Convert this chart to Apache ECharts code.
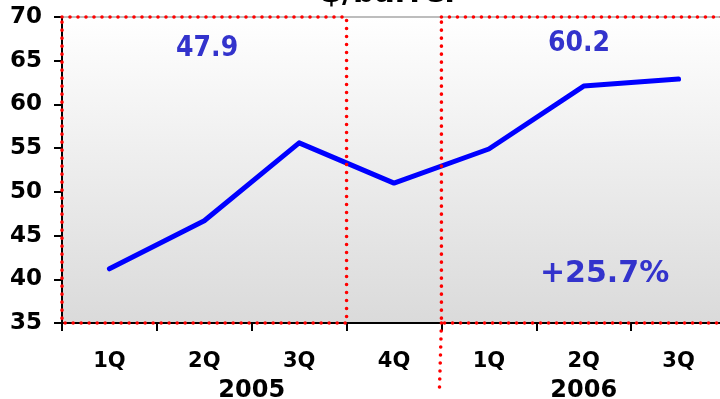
<!DOCTYPE html>
<html>
<head>
<meta charset="utf-8">
<script src="https://cdn.jsdelivr.net/npm/echarts@6/dist/echarts.min.js"></script>
<style>
  html, body { margin: 0; padding: 0; background: #ffffff; }
  #chart { width: 720px; height: 399px; }
</style>
</head>
<body>
<div id="chart"></div>
<script>
// Quarterly oil price, $/barrel
const quarters = ['1Q', '2Q', '3Q', '4Q', '1Q', '2Q', '3Q'];
const prices = [41.2, 46.7, 55.6, 51.0, 54.9, 62.1, 62.9];
const years = ['2005', '2006'];
const yearQuarterCounts = [4, 3];
// Average price for the compared periods: 1Q-3Q 2005 vs 1Q-3Q 2006
const periodAverages = ['47.9', '60.2'];
const periodStarts = [0, 4];
const periodLengths = [3, 3];
const changeLabel = '+25.7%';
const unitTitle = '$/barrel';
const yMin = 35, yMax = 70, yStep = 5;

const FONT = '"DejaVu Sans", Verdana, sans-serif';
const FONT_NARROW = '"DejaVu Sans Condensed", "DejaVu Sans", Tahoma, sans-serif';
const BLUE_TEXT = '#3333cc';
const DOT_STYLE = { stroke: '#ff0000', lineWidth: 3.6, lineDash: [0, 8], lineCap: 'round', fill: null };

const chart = echarts.init(document.getElementById('chart'), null, { renderer: 'canvas' });

chart.setOption({
  animation: false,
  backgroundColor: '#ffffff',
  grid: {
    // the plot runs slightly past the right edge of the canvas
    left: 62, top: 17, width: 664, bottom: 76,
    outerBoundsMode: 'none',
    containLabel: false,
    show: true,
    borderColor: '#a8a8a8',
    borderWidth: 1.5,
    backgroundColor: new echarts.graphic.LinearGradient(0, 0, 0, 1, [
      { offset: 0, color: '#ffffff' },
      { offset: 1, color: '#dadada' }
    ])
  },
  xAxis: [
    {
      type: 'category',
      data: quarters,
      boundaryGap: true,
      axisLine: { lineStyle: { color: '#000000', width: 2 } },
      axisTick: { show: true, length: 8, alignWithLabel: false, lineStyle: { color: '#000000', width: 2 } },
      axisLabel: {
        interval: 0, margin: 28,
        color: '#000000', fontFamily: FONT, fontWeight: 'bold', fontSize: 21
      },
      splitLine: { show: false }
    },
    {
      // Helper scale spanning the quarter bands (0 .. number of quarters)
      type: 'value',
      min: 0, max: quarters.length,
      show: false
    }
  ],
  yAxis: {
    type: 'value',
    min: yMin, max: yMax, interval: yStep,
    axisLine: { show: true, lineStyle: { color: '#000000', width: 2 } },
    axisTick: { show: true, length: 8, inside: false, lineStyle: { color: '#000000', width: 2 } },
    axisLabel: {
      margin: 20,
      color: '#000000', fontFamily: FONT, fontWeight: 'bold', fontSize: 23
    },
    splitLine: { show: false }
  },
  series: [
    {
      type: 'line',
      xAxisIndex: 0,
      yAxisIndex: 0,
      data: prices,
      showSymbol: false,
      symbol: 'none',
      lineStyle: { color: '#0000ff', width: 5, cap: 'round', join: 'round' },
      z: 3
    }
  ]
});

// Annotations placed through the chart's own scales
const px = v => chart.convertToPixel({ xAxisIndex: 1 }, v);
const py = v => chart.convertToPixel({ yAxisIndex: 0 }, v);
const yTop = py(yMax), yBot = py(yMin);

const graphics = [];

// Compared periods: dotted red boxes with their average price
const averageLevels = [66.4, 66.9];
const averageOffsets = [0.03, -0.05];
periodStarts.forEach((s, i) => {
  const x0 = px(s), x1 = px(s + periodLengths[i]);
  graphics.push({
    type: 'rect', z: 100, silent: true,
    shape: { x: x0, y: yTop, width: x1 - x0, height: yBot - yTop },
    style: Object.assign({}, DOT_STYLE)
  });
  graphics.push({
    type: 'text', z: 100, silent: true,
    x: px(s + periodLengths[i] / 2 + averageOffsets[i]), y: py(averageLevels[i]),
    style: {
      text: periodAverages[i], fill: BLUE_TEXT, font: 'bold 28px ' + FONT_NARROW,
      align: 'center', verticalAlign: 'middle'
    }
  });
});

// Year labels under the quarter labels
let start = 0;
yearQuarterCounts.forEach((count, i) => {
  graphics.push({
    type: 'text', z: 100, silent: true,
    x: px(start + count / 2), y: yBot + 56,
    style: {
      text: years[i], fill: '#000000', font: 'bold 24px ' + FONT,
      align: 'center', verticalAlign: 'top'
    }
  });
  start += count;
});

// Divider between the two years, running down past the axis
const xDiv = px(yearQuarterCounts[0]);
graphics.push({
  type: 'polyline', z: 101, silent: true,
  shape: { points: [[xDiv, yBot], [xDiv - 2, yBot + 67]] },
  style: Object.assign({}, DOT_STYLE)
});

// Change between the two periods
graphics.push({
  type: 'text', z: 100, silent: true,
  x: px(5.72), y: py(40.6),
  style: {
    text: changeLabel, fill: BLUE_TEXT, font: 'bold 30px ' + FONT,
    align: 'center', verticalAlign: 'middle'
  }
});

// Unit title, mostly above the top edge
graphics.push({
  type: 'text', z: 100, silent: true,
  x: 388, y: 9,
  style: {
    text: unitTitle, fill: '#000000', font: 'bold 30px ' + FONT,
    align: 'center', verticalAlign: 'bottom'
  }
});

chart.setOption({ graphic: graphics });
</script>
</body>
</html>
